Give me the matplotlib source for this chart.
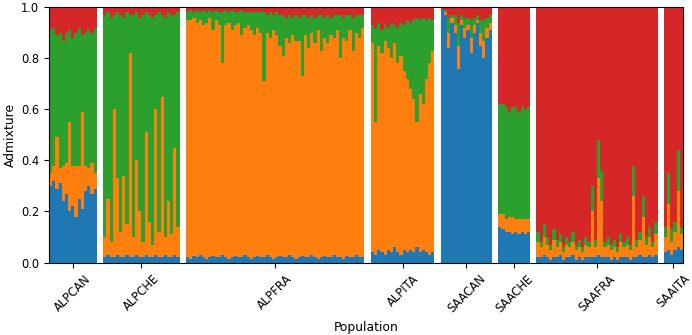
import numpy as np
import matplotlib
matplotlib.use("Agg")
import matplotlib.pyplot as plt

# Population names, in plot order
populations = ["ALPCAN", "ALPCHE", "ALPFRA", "ALPITA", "SAACAN", "SAACHE", "SAAFRA", "SAAITA"]

# Admixture proportions per individual (K1 blue, K2 orange, K3 green, K4 red)
alpcan_k1 = [0.30, 0.32, 0.29, 0.31, 0.24, 0.27, 0.20, 0.22, 0.18, 0.25, 0.21, 0.28, 0.30, 0.27, 0.29]
alpcan_k2 = [0.05, 0.06, 0.20, 0.06, 0.14, 0.12, 0.35, 0.16, 0.20, 0.13, 0.38, 0.10, 0.07, 0.12, 0.06]
alpcan_k3 = [0.56, 0.54, 0.40, 0.53, 0.49, 0.51, 0.36, 0.50, 0.52, 0.54, 0.30, 0.52, 0.54, 0.51, 0.57]
alpcan_k4 = [0.09, 0.08, 0.11, 0.10, 0.13, 0.10, 0.09, 0.12, 0.10, 0.08, 0.11, 0.10, 0.09, 0.10, 0.08]

alpche_k1 = [0.02, 0.03, 0.02, 0.02, 0.03, 0.02, 0.02, 0.03, 0.02, 0.02, 0.03, 0.02,
             0.02, 0.03, 0.02, 0.02, 0.03, 0.02, 0.02, 0.03, 0.02, 0.02, 0.03, 0.02]
alpche_k2 = [0.08, 0.22, 0.06, 0.58, 0.30, 0.10, 0.32, 0.12, 0.80, 0.08, 0.37, 0.18,
             0.06, 0.48, 0.14, 0.05, 0.57, 0.10, 0.63, 0.07, 0.22, 0.09, 0.42, 0.12]
alpche_k3 = [0.87, 0.73, 0.88, 0.37, 0.65, 0.85, 0.62, 0.83, 0.15, 0.87, 0.58, 0.76,
             0.89, 0.47, 0.81, 0.89, 0.37, 0.86, 0.32, 0.86, 0.74, 0.86, 0.52, 0.84]
alpche_k4 = [0.03, 0.02, 0.04, 0.03, 0.02, 0.03, 0.04, 0.02, 0.03, 0.03, 0.02, 0.04,
             0.03, 0.02, 0.03, 0.04, 0.03, 0.02, 0.03, 0.04, 0.02, 0.03, 0.03, 0.02]

alpfra_k1 = [0.020, 0.015, 0.025, 0.020, 0.030, 0.020, 0.015, 0.020, 0.025, 0.020, 0.020, 0.030, 0.020, 0.015,
             0.020, 0.025, 0.020, 0.020, 0.030, 0.020, 0.015, 0.020, 0.025, 0.020, 0.020, 0.030, 0.020, 0.015,
             0.020, 0.025, 0.020, 0.020, 0.030, 0.020, 0.015, 0.020, 0.025, 0.020, 0.020, 0.030, 0.020, 0.015,
             0.020, 0.025, 0.020, 0.020, 0.030, 0.020, 0.020, 0.015, 0.025, 0.020, 0.020, 0.030, 0.020, 0.020]
alpfra_k2 = [0.930, 0.935, 0.935, 0.920, 0.920, 0.910, 0.925, 0.940, 0.885, 0.930, 0.910, 0.750, 0.910, 0.925,
             0.890, 0.905, 0.920, 0.870, 0.890, 0.910, 0.895, 0.870, 0.895, 0.880, 0.690, 0.870, 0.860, 0.895,
             0.870, 0.825, 0.790, 0.860, 0.830, 0.870, 0.855, 0.850, 0.705, 0.870, 0.820, 0.870, 0.840, 0.895,
             0.810, 0.855, 0.840, 0.870, 0.850, 0.890, 0.780, 0.865, 0.845, 0.890, 0.810, 0.870, 0.860, 0.900]
alpfra_k3 = [0.03, 0.04, 0.02, 0.05, 0.03, 0.06, 0.04, 0.03, 0.07, 0.04, 0.05, 0.20, 0.06, 0.04,
             0.08, 0.05, 0.04, 0.10, 0.06, 0.05, 0.07, 0.09, 0.06, 0.08, 0.27, 0.07, 0.10, 0.06,
             0.09, 0.12, 0.16, 0.08, 0.11, 0.07, 0.10, 0.09, 0.24, 0.08, 0.12, 0.07, 0.10, 0.06,
             0.14, 0.08, 0.11, 0.07, 0.09, 0.06, 0.17, 0.08, 0.10, 0.06, 0.13, 0.07, 0.09, 0.05]
alpfra_k4 = [0.02, 0.01, 0.02, 0.01, 0.02, 0.01, 0.02, 0.01, 0.02, 0.01, 0.02, 0.02, 0.01, 0.02,
             0.01, 0.02, 0.02, 0.01, 0.02, 0.02, 0.02, 0.02, 0.02, 0.02, 0.02, 0.03, 0.02, 0.03,
             0.02, 0.03, 0.03, 0.04, 0.03, 0.04, 0.03, 0.04, 0.03, 0.03, 0.04, 0.03, 0.04, 0.03,
             0.03, 0.04, 0.03, 0.04, 0.03, 0.03, 0.03, 0.04, 0.03, 0.03, 0.04, 0.03, 0.03, 0.03]

alpita_k1 = [0.04, 0.03, 0.05, 0.04, 0.03, 0.05, 0.04, 0.06, 0.04, 0.03,
             0.05, 0.04, 0.05, 0.04, 0.06, 0.04, 0.05, 0.04, 0.03, 0.04]
alpita_k2 = [0.82, 0.52, 0.80, 0.78, 0.84, 0.79, 0.76, 0.80, 0.74, 0.78,
             0.70, 0.68, 0.63, 0.60, 0.49, 0.62, 0.57, 0.68, 0.75, 0.79]
alpita_k3 = [0.07, 0.37, 0.09, 0.09, 0.06, 0.08, 0.14, 0.07, 0.14, 0.13,
             0.18, 0.23, 0.26, 0.31, 0.41, 0.29, 0.34, 0.23, 0.18, 0.12]
alpita_k4 = [0.07, 0.08, 0.06, 0.09, 0.07, 0.08, 0.06, 0.07, 0.08, 0.06,
             0.07, 0.05, 0.06, 0.05, 0.04, 0.05, 0.04, 0.05, 0.04, 0.05]

saacan_k1 = [0.99, 0.97, 0.84, 0.94, 0.90, 0.76, 0.93, 0.88, 0.91, 0.82, 0.90, 0.94, 0.85, 0.80, 0.88, 0.91]
saacan_k2 = [0.00, 0.01, 0.06, 0.02, 0.03, 0.09, 0.02, 0.04, 0.02, 0.06, 0.03, 0.01, 0.05, 0.07, 0.04, 0.03]
saacan_k3 = [0.00, 0.01, 0.06, 0.01, 0.04, 0.09, 0.02, 0.04, 0.03, 0.07, 0.03, 0.02, 0.05, 0.08, 0.04, 0.03]
saacan_k4 = [0.01, 0.01, 0.04, 0.03, 0.03, 0.06, 0.03, 0.04, 0.04, 0.05, 0.04, 0.03, 0.05, 0.05, 0.04, 0.03]

saache_k1 = [0.14, 0.13, 0.12, 0.12, 0.11, 0.12, 0.11, 0.12, 0.11, 0.12]
saache_k2 = [0.05, 0.06, 0.05, 0.06, 0.07, 0.05, 0.06, 0.05, 0.06, 0.05]
saache_k3 = [0.43, 0.43, 0.44, 0.41, 0.43, 0.44, 0.42, 0.44, 0.43, 0.44]
saache_k4 = [0.38, 0.38, 0.39, 0.41, 0.39, 0.39, 0.41, 0.39, 0.40, 0.39]

saafra_k1 = [0.02, 0.02, 0.03, 0.02, 0.01, 0.02, 0.02, 0.03, 0.01, 0.02, 0.02, 0.03, 0.01,
             0.02, 0.01, 0.02, 0.02, 0.02, 0.02, 0.03, 0.02, 0.02, 0.02, 0.01, 0.02, 0.01,
             0.02, 0.02, 0.02, 0.01, 0.02, 0.02, 0.03, 0.02, 0.02, 0.03, 0.02, 0.03]
saafra_k2 = [0.06, 0.04, 0.07, 0.05, 0.04, 0.07, 0.04, 0.05, 0.03, 0.05, 0.04, 0.05, 0.04,
             0.04, 0.03, 0.05, 0.04, 0.18, 0.04, 0.30, 0.22, 0.04, 0.05, 0.04, 0.04, 0.03,
             0.06, 0.04, 0.05, 0.04, 0.24, 0.04, 0.06, 0.16, 0.05, 0.07, 0.04, 0.08]
saafra_k3 = [0.04, 0.02, 0.05, 0.03, 0.02, 0.04, 0.03, 0.03, 0.02, 0.03, 0.02, 0.04, 0.02,
             0.03, 0.02, 0.03, 0.02, 0.10, 0.03, 0.15, 0.12, 0.02, 0.03, 0.02, 0.03, 0.02,
             0.03, 0.02, 0.03, 0.02, 0.12, 0.03, 0.03, 0.08, 0.03, 0.04, 0.02, 0.05]
saafra_k4 = [0.88, 0.92, 0.85, 0.90, 0.93, 0.87, 0.91, 0.89, 0.94, 0.90, 0.92, 0.88, 0.93,
             0.91, 0.94, 0.90, 0.92, 0.70, 0.91, 0.52, 0.64, 0.92, 0.90, 0.93, 0.91, 0.94,
             0.89, 0.92, 0.90, 0.93, 0.62, 0.91, 0.88, 0.74, 0.90, 0.86, 0.92, 0.84]

saaita_k1 = [0.04, 0.05, 0.03, 0.05, 0.06, 0.05]
saaita_k2 = [0.06, 0.18, 0.05, 0.07, 0.22, 0.06]
saaita_k3 = [0.04, 0.12, 0.05, 0.04, 0.16, 0.03]
saaita_k4 = [0.86, 0.65, 0.87, 0.84, 0.56, 0.86]

q_by_pop = {
    "ALPCAN": [alpcan_k1, alpcan_k2, alpcan_k3, alpcan_k4],
    "ALPCHE": [alpche_k1, alpche_k2, alpche_k3, alpche_k4],
    "ALPFRA": [alpfra_k1, alpfra_k2, alpfra_k3, alpfra_k4],
    "ALPITA": [alpita_k1, alpita_k2, alpita_k3, alpita_k4],
    "SAACAN": [saacan_k1, saacan_k2, saacan_k3, saacan_k4],
    "SAACHE": [saache_k1, saache_k2, saache_k3, saache_k4],
    "SAAFRA": [saafra_k1, saafra_k2, saafra_k3, saafra_k4],
    "SAAITA": [saaita_k1, saaita_k2, saaita_k3, saaita_k4],
}

colors = ["#1f77b4", "#ff7f0e", "#2ca02c", "#d62728"]
gap = 2  # empty slots between populations

fig, ax = plt.subplots(figsize=(6.92, 3.35), dpi=100)
fig.subplots_adjust(left=0.0708, right=0.987, bottom=0.2164, top=0.978)

x0 = 0
centers = []
for pop in populations:
    q = np.array(q_by_pop[pop], dtype=float)
    q = q / q.sum(axis=0)  # proportions sum to one per individual
    n = q.shape[1]
    xs = x0 + np.arange(n)
    bottom = np.zeros(n)
    for k in range(q.shape[0]):
        ax.bar(xs, q[k], bottom=bottom, width=1.0, align="edge",
               color=colors[k], linewidth=0, antialiased=False)
        bottom += q[k]
    centers.append(x0 + n / 2)
    x0 += n + gap

ax.set_xlim(0, x0 - gap)
ax.set_ylim(0, 1)
ax.set_xticks(centers)
ax.set_xticklabels(populations, rotation=45, fontsize=8.3)
ax.set_yticks(np.arange(0, 1.01, 0.2))
ax.tick_params(axis="y", labelsize=8.3)
ax.set_xlabel("Population", fontsize=8.9)
ax.set_ylabel("Admixture", fontsize=8.9)
ax.xaxis.set_label_coords(0.5, -0.228)
ax.yaxis.set_label_coords(-0.05, 0.5)

plt.savefig("out.png", dpi=100)
